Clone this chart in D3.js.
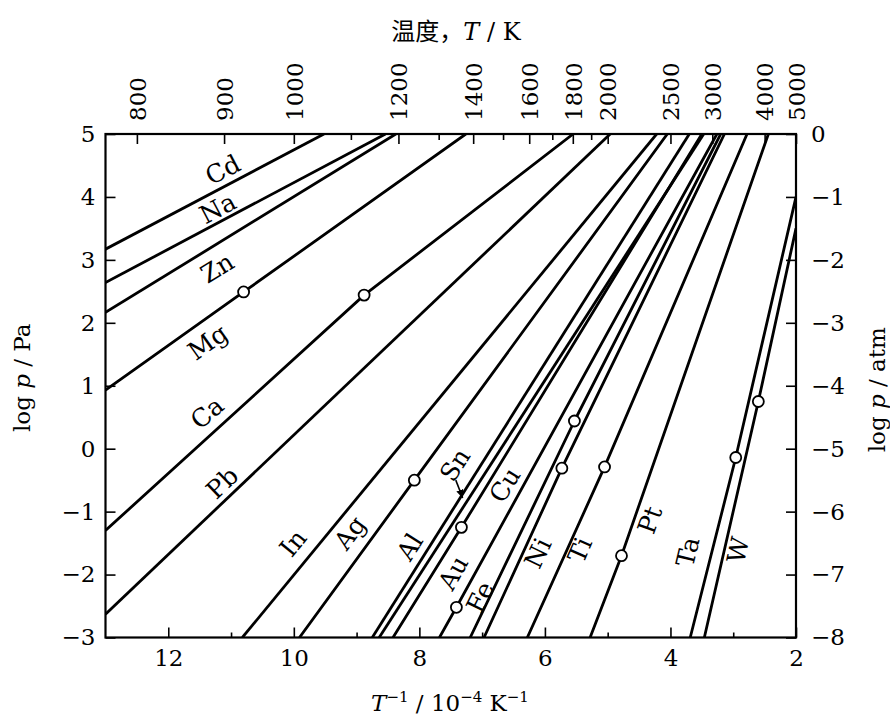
<!DOCTYPE html>
<html><head><meta charset="utf-8">
<script src="https://cdn.jsdelivr.net/npm/d3@7"></script>
<style>
body{margin:0;background:#fff}
text{font-family:"DejaVu Serif",serif;fill:#000}
</style>
</head><body>
<svg id="c" width="890" height="720"></svg>
<script>
// ---- data ----
const metals    = ["Cd","Na","Zn","Mg","Ca","Pb","In","Ag","Al","Sn","Au","Cu","Fe","Ni","Ti","Pt","Ta","W"];
// line start (lower/left end), 1/T in 1e-4 K^-1 and log p in Pa
const startInvT = [13, 13, 13, 13, 13, 13, 10.82, 9.91, 8.75, 8.64, 7.68, 8.42, 7.19, 6.97, 6.28, 5.28, 3.685, 3.46];
const startLogP = [3.17, 2.64, 2.165, 0.93, -1.30, -2.63, -3, -3, -3, -3, -3, -3, -3, -3, -3, -3, -3, -3];
// melting point markers (null = none on the chart)
const meltInvT  = [null, null, null, 10.80, 8.88, null, null, 8.08, null, null, 7.41, 7.33, 5.53, 5.73, 5.05, 4.78, 2.96, 2.60];
const meltLogP  = [null, null, null, 2.49, 2.44, null, null, -0.50, null, null, -2.52, -1.25, 0.44, -0.31, -0.29, -1.70, -0.14, 0.75];
// line end (upper/right end)
const endInvT   = [9.52, 8.54, 8.375, 7.26, 5.55, 4.96, 4.22, 4.05, 3.70, 3.47, 3.26, 3.50, 3.20, 3.14, 2.78, 2.44, 2, 2];
const endLogP   = [5, 5, 5, 5, 5, 5, 5, 5, 5, 5, 5, 5, 5, 5, 5, 5, 4.0, 3.5];

const invTTicks      = [12, 10, 8, 6, 4, 2];
const invTMinorTicks = [11, 9, 7, 5, 3];
const logPaTicks     = [-3, -2, -1, 0, 1, 2, 3, 4, 5];
const logAtmTicks    = [-8, -7, -6, -5, -4, -3, -2, -1, 0];
const tempTicks      = [800, 900, 1000, 1200, 1400, 1600, 1800, 2000, 2500, 3000, 4000, 5000];
const tempMinorTicks = [1100, 1300, 1500, 1700, 1900];

// ---- layout (label anchors in data coordinates) ----
const labelInvT = [11.13, 11.21, 11.22, 11.37, 11.38, 11.14, 10.01, 9.105, 8.15, 7.43, 7.46, 6.635, 7.03, 6.11, 5.44, 4.325, 3.72, 2.92];
const labelLogP = [4.43, 3.82, 2.87, 1.69, 0.567, -0.545, -1.50, -1.34, -1.56, -0.26, -1.975, -0.577, -2.36, -1.66, -1.61, -1.133, -1.64, -1.61];
const snArrow = {from: [7.42, -0.50], to: [7.31, -0.78]};

(function () {
const L = 105.5, R = 796, TP = 134, B = 637.5;
const svg = d3.select("#c");
const x = d3.scaleLinear().domain([13, 2]).range([L, R]);
const y = d3.scaleLinear().domain([-3, 5]).range([B, TP]);
const yAtm = d3.scaleLinear().domain([-8, 0]).range([B, TP]);
const minus = v => v < 0 ? "\u2212" + (-v) : String(v);

const defs = svg.append("defs");
defs.append("clipPath").attr("id", "clip")
  .append("rect").attr("x", L).attr("y", TP).attr("width", R - L).attr("height", B - TP);
defs.append("marker").attr("id", "arr").attr("viewBox", "0 0 10 10")
  .attr("refX", 9).attr("refY", 5).attr("markerWidth", 9).attr("markerHeight", 9)
  .attr("orient", "auto").attr("markerUnits", "userSpaceOnUse")
  .append("path").attr("d", "M0,1 L10,5 L0,9 Z").attr("fill", "#000");

const fs = 23;
function styleAxis(g) {
  g.select(".domain").remove();
  g.selectAll(".tick line").attr("stroke", "#000").attr("stroke-width", 1.6);
  g.selectAll("text").attr("font-size", fs).attr("font-family", "DejaVu Serif");
}
// bottom
svg.append("g").attr("transform", `translate(0,${B})`)
  .call(d3.axisBottom(x).tickValues(invTTicks).tickSize(-10).tickPadding(12).tickFormat(d3.format("d")))
  .call(styleAxis);
svg.append("g").attr("transform", `translate(0,${B})`)
  .call(d3.axisBottom(x).tickValues(invTMinorTicks).tickSize(-5).tickFormat(""))
  .call(styleAxis);
// left
svg.append("g").attr("transform", `translate(${L},0)`)
  .call(d3.axisLeft(y).tickValues(logPaTicks).tickSize(-10).tickPadding(10).tickFormat(minus))
  .call(styleAxis);
// right
svg.append("g").attr("transform", `translate(${R},0)`)
  .call(d3.axisRight(yAtm).tickValues(logAtmTicks).tickSize(-10).tickPadding(15).tickFormat(minus))
  .call(styleAxis);
// top (temperature)
const gTop = svg.append("g").attr("transform", `translate(0,${TP})`)
  .call(d3.axisTop(x).tickValues(tempTicks.map(t => 1e4 / t)).tickSize(-10)
        .tickFormat(v => String(Math.round(1e4 / v))))
  .call(styleAxis);
gTop.selectAll(".tick text").attr("transform", "rotate(-90)")
  .attr("x", 13).attr("y", 0).attr("dy", "0.36em").attr("text-anchor", "start");
svg.append("g").attr("transform", `translate(0,${TP})`)
  .call(d3.axisTop(x).tickValues(tempMinorTicks.map(t => 1e4 / t)).tickSize(-6).tickFormat(""))
  .call(styleAxis);

// frame
svg.append("rect").attr("x", L).attr("y", TP).attr("width", R - L).attr("height", B - TP)
  .attr("fill", "none").attr("stroke", "#000").attr("stroke-width", 2.2);

// lines
const line = d3.line().x(d => x(d[0])).y(d => y(d[1]));
const series = metals.map((m, i) => {
  const pts = [[startInvT[i], startLogP[i]]];
  if (meltInvT[i] !== null) pts.push([meltInvT[i], meltLogP[i]]);
  pts.push([endInvT[i], endLogP[i]]);
  return {m, pts, i};
});
const gl = svg.append("g").attr("clip-path", "url(#clip)");
gl.selectAll("path").data(series).join("path")
  .attr("d", d => line(d.pts)).attr("fill", "none").attr("stroke", "#000")
  .attr("stroke-width", 2.8).attr("stroke-linejoin", "round");

// melting point circles
svg.append("g").selectAll("circle")
  .data(metals.map((m, i) => i).filter(i => meltInvT[i] !== null))
  .join("circle").attr("cx", i => x(meltInvT[i])).attr("cy", i => y(meltLogP[i]))
  .attr("r", 5.5).attr("fill", "#fff").attr("stroke", "#000").attr("stroke-width", 1.8);

// element labels, rotated along their line
svg.append("g").selectAll("text").data(series).join("text")
  .attr("transform", d => {
    const a = d.pts[0], b = d.pts[d.pts.length - 1];
    const ang = Math.atan2(y(b[1]) - y(a[1]), x(b[0]) - x(a[0])) * 180 / Math.PI;
    return `translate(${x(labelInvT[d.i])},${y(labelLogP[d.i])}) rotate(${ang})`;
  })
  .attr("text-anchor", "middle").attr("dominant-baseline", "central")
  .attr("font-size", 25).text(d => d.m);

// Sn arrow
svg.append("line")
  .attr("x1", x(snArrow.from[0])).attr("y1", y(snArrow.from[1]))
  .attr("x2", x(snArrow.to[0])).attr("y2", y(snArrow.to[1]))
  .attr("stroke", "#000").attr("stroke-width", 1.6).attr("marker-end", "url(#arr)");

// axis titles
const topTitle = svg.append("text").attr("x", 456).attr("y", 40).attr("text-anchor", "middle").attr("font-size", 24);
topTitle.append("tspan").attr("font-family", "Noto Sans CJK SC").text("温度，");
topTitle.append("tspan").attr("font-style", "italic").text("T");
topTitle.append("tspan").text(" / K");

const bot = svg.append("text").attr("x", 450).attr("y", 711).attr("text-anchor", "middle").attr("font-size", 23);
bot.append("tspan").attr("font-style", "italic").text("T");
bot.append("tspan").attr("dy", -9).attr("font-size", 15).text("\u22121");
bot.append("tspan").attr("dy", 9).text(" / 10");
bot.append("tspan").attr("dy", -9).attr("font-size", 15).text("\u22124");
bot.append("tspan").attr("dy", 9).text(" K");
bot.append("tspan").attr("dy", -9).attr("font-size", 15).text("\u22121");

const lt = svg.append("text").attr("transform", `translate(30,${(TP + B) / 2 - 8}) rotate(-90)`)
  .attr("text-anchor", "middle").attr("font-size", 23);
lt.append("tspan").text("log ");
lt.append("tspan").attr("font-style", "italic").text("p");
lt.append("tspan").text(" / Pa");

const rt = svg.append("text").attr("transform", `translate(877,${(TP + B) / 2 + 4}) rotate(-90)`)
  .attr("text-anchor", "middle").attr("dominant-baseline", "central").attr("font-size", 23);
rt.append("tspan").text("log ");
rt.append("tspan").attr("font-style", "italic").text("p");
rt.append("tspan").text(" / atm");
})();
</script>
</body></html>
